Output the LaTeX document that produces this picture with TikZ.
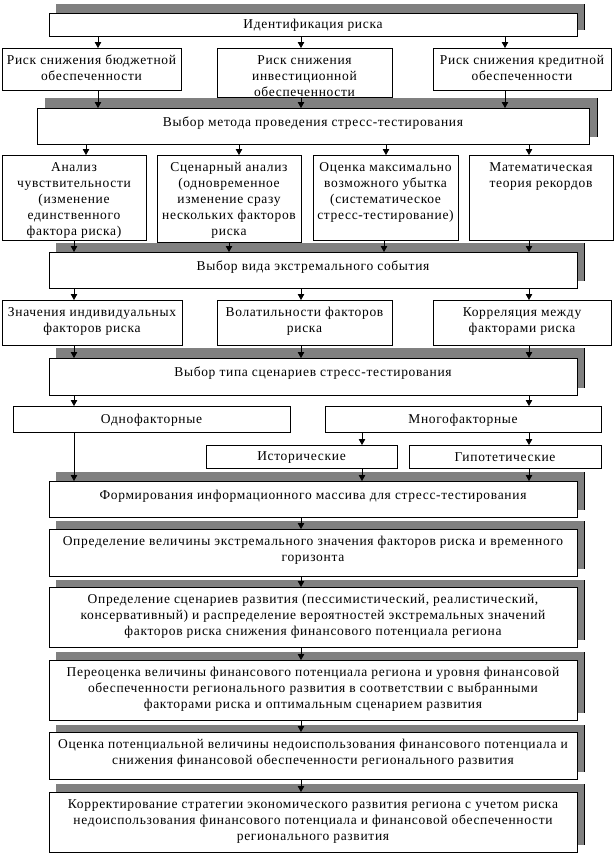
\documentclass[tikz,border=0pt]{standalone}
\usepackage{fontspec}
\setmainfont{Liberation Serif}[LetterSpace=5]
\usetikzlibrary{arrows.meta}
\newcommand\mybox[5]{\node[box, minimum width={#4-#2}, minimum height={#5-#3}] (#1) at (#2,#3) {};}
\newcommand\myshd[4]{\fill[shd] (#1,#2) rectangle (#3,#4); \draw[line width=0.9pt] (#3,#2) -- (#3,#4);}
\begin{document}
\begin{tikzpicture}[x=1pt,y=-1pt,
  box/.style={draw=black, line width=0.9pt, fill=white, anchor=north west, inner sep=0pt, outer sep=0pt},
  txt/.style={anchor=north, inner sep=0pt, align=center, font=\fontsize{13.5}{16}\selectfont, execute at begin node={\rule{0pt}{11pt}}},
  stxt/.style={anchor=center, inner sep=0pt, font=\fontsize{13.5}{16}\selectfont},
  arr/.style={line width=0.9pt, -{Triangle[length=6pt,width=6.5pt]}},
  shd/.style={fill=black!50}
]
\useasboundingbox (0,0) rectangle (614,854);
% shadows
\myshd{56}{4}{584}{30}
\myshd{45}{98}{597}{137}
\myshd{56}{243}{584}{281}
\myshd{56}{348}{584}{388}
\myshd{56}{472}{584}{510}
\myshd{56}{521}{584}{569}
\myshd{56}{580}{584}{640}
\myshd{56}{652}{584}{713}
\myshd{56}{725}{584}{772}
\myshd{56}{784}{584}{845}
% boxes
\mybox{id}{49}{13}{577}{36}
\mybox{r2a}{2}{48}{181}{90}
\mybox{r2b}{217}{48}{392}{97}
\mybox{r2c}{433}{48}{611}{90}
\mybox{met}{37}{108}{589}{144}
\mybox{r3a}{2}{155}{146}{240}
\mybox{r3b}{157}{155}{301}{242}
\mybox{r3c}{313}{155}{458}{240}
\mybox{r3d}{469}{155}{613}{240}
\mybox{vid}{49}{252}{577}{288}
\mybox{r4a}{2}{300}{182}{345}
\mybox{r4b}{217}{300}{392}{345}
\mybox{r4c}{433}{300}{611}{345}
\mybox{tip}{49}{358}{577}{395}
\mybox{one}{13}{406}{290}{432}
\mybox{many}{325}{406}{601}{432}
\mybox{hist}{206}{445}{397}{468}
\mybox{hyp}{409}{445}{601}{468}
\mybox{form}{49}{481}{577}{517}
\mybox{extr}{49}{529}{577}{576}
\mybox{scen}{49}{587}{577}{647}
\mybox{reval}{49}{660}{577}{720}
\mybox{est}{49}{732}{577}{779}
\mybox{corr}{49}{792}{577}{852}
% texts
\node[stxt] (t-id) at ([yshift=-1pt]id.center) {Идентификация риска};
\node[txt] (t-r2a) at ([yshift=-7pt]r2a.north) {Риск снижения бюджетной\\обеспеченности};
\node[txt] (t-r2b) at ([yshift=-7pt]r2b.north) {Риск снижения\\инвестиционной\\обеспеченности};
\node[txt] (t-r2c) at ([yshift=-7pt]r2c.north) {Риск снижения кредитной\\обеспеченности};
\node[txt] (t-met) at ([yshift=-7pt]met.north) {Выбор метода проведения стресс-тестирования};
\node[txt] (t-r3a) at ([yshift=-7pt]r3a.north) {Анализ\\чувствительности\\(изменение\\единственного\\фактора риска)};
\node[txt] (t-r3b) at ([yshift=-7pt]r3b.north) {Сценарный анализ\\(одновременное\\изменение сразу\\нескольких факторов\\риска};
\node[txt] (t-r3c) at ([yshift=-7pt]r3c.north) {Оценка максимально\\возможного убытка\\(систематическое\\стресс-тестирование)};
\node[txt] (t-r3d) at ([yshift=-7pt]r3d.north) {Математическая\\теория рекордов};
\node[txt] (t-vid) at ([yshift=-7pt]vid.north) {Выбор вида экстремального события};
\node[txt] (t-r4a) at ([yshift=-7pt]r4a.north) {Значения индивидуальных\\факторов риска};
\node[txt] (t-r4b) at ([yshift=-7pt]r4b.north) {Волатильности факторов\\риска};
\node[txt] (t-r4c) at ([yshift=-7pt]r4c.north) {Корреляция между\\факторами риска};
\node[txt] (t-tip) at ([yshift=-7pt]tip.north) {Выбор типа сценариев стресс-тестирования};
\node[stxt] (t-one) at ([yshift=-1pt]one.center) {Однофакторные};
\node[stxt] (t-many) at ([yshift=-1pt]many.center) {Многофакторные};
\node[stxt] (t-hist) at ([yshift=-1pt]hist.center) {Исторические};
\node[stxt] (t-hyp) at ([yshift=-1pt]hyp.center) {Гипотетические};
\node[txt] (t-form) at ([yshift=-7pt]form.north) {Формирования информационного массива для стресс-тестирования};
\node[txt] (t-extr) at ([yshift=-7pt]extr.north) {Определение величины экстремального значения  факторов риска и  временного\\горизонта};
\node[txt] (t-scen) at ([yshift=-7pt]scen.north) {Определение сценариев развития (пессимистический, реалистический,\\консервативный) и распределение вероятностей экстремальных значений\\факторов риска снижения финансового потенциала региона};
\node[txt] (t-reval) at ([yshift=-7pt]reval.north) {Переоценка величины финансового потенциала региона и  уровня финансовой\\обеспеченности  регионального развития в соответствии с выбранными\\факторами риска и оптимальным сценарием развития};
\node[txt] (t-est) at ([yshift=-7pt]est.north) {Оценка потенциальной величины недоиспользования финансового потенциала и\\снижения финансовой обеспеченности регионального развития};
\node[txt] (t-corr) at ([yshift=-7pt]corr.north) {Корректирование стратегии экономического развития региона с учетом риска\\недоиспользования финансового потенциала и финансовой обеспеченности\\регионального развития};
% arrow columns
\coordinate (xa) at (98,0);
\coordinate (xb) at (301,0);
\coordinate (xc) at (505,0);
\coordinate (xd) at (86,0);
\coordinate (xe) at (239,0);
\coordinate (xf) at (386,0);
\coordinate (xg) at (529,0);
\coordinate (xh) at (74,0);
\coordinate (xi) at (229,0);
\coordinate (xj) at (384,0);
\coordinate (xk) at (362,0);
% arrows
\draw[arr] (id.south -| xa) -- (r2a.north -| xa);
\draw[arr] (id.south -| xb) -- (r2b.north -| xb);
\draw[arr] (id.south -| xc) -- (r2c.north -| xc);
\draw[arr] (r2a.south -| xa) -- (met.north -| xa);
\draw[arr] (r2b.south -| xb) -- (met.north -| xb);
\draw[arr] (r2c.south -| xc) -- (met.north -| xc);
\draw[arr] (met.south -| xd) -- (r3a.north -| xd);
\draw[arr] (met.south -| xe) -- (r3b.north -| xe);
\draw[arr] (met.south -| xf) -- (r3c.north -| xf);
\draw[arr] (met.south -| xg) -- (r3d.north -| xg);
\draw[arr] (r3a.south -| xh) -- (vid.north -| xh);
\draw[arr] (r3b.south -| xi) -- (vid.north -| xi);
\draw[arr] (r3c.south -| xj) -- (vid.north -| xj);
\draw[arr] (r3d.south -| xg) -- (vid.north -| xg);
\draw[arr] (vid.south -| xh) -- (r4a.north -| xh);
\draw[arr] (vid.south -| xb) -- (r4b.north -| xb);
\draw[arr] (vid.south -| xg) -- (r4c.north -| xg);
\draw[arr] (r4a.south -| xh) -- (tip.north -| xh);
\draw[arr] (r4b.south -| xb) -- (tip.north -| xb);
\draw[arr] (r4c.south -| xg) -- (tip.north -| xg);
\draw[arr] (tip.south -| xh) -- (one.north -| xh);
\draw[arr] (tip.south -| xg) -- (many.north -| xg);
\draw[arr] (many.south -| xk) -- (hist.north -| xk);
\draw[arr] (many.south -| xg) -- (hyp.north -| xg);
\draw[arr] (one.south -| xh) -- (form.north -| xh);
\draw[arr] (hist.south -| xk) -- (form.north -| xk);
\draw[arr] (hyp.south -| xg) -- (form.north -| xg);
\draw[arr] (form.south -| xb) -- (extr.north -| xb);
\draw[arr] (extr.south -| xb) -- (scen.north -| xb);
\draw[arr] (scen.south -| xb) -- (reval.north -| xb);
\draw[arr] (reval.south -| xb) -- (est.north -| xb);
\draw[arr] (est.south -| xb) -- (corr.north -| xb);
\end{tikzpicture}
\end{document}
